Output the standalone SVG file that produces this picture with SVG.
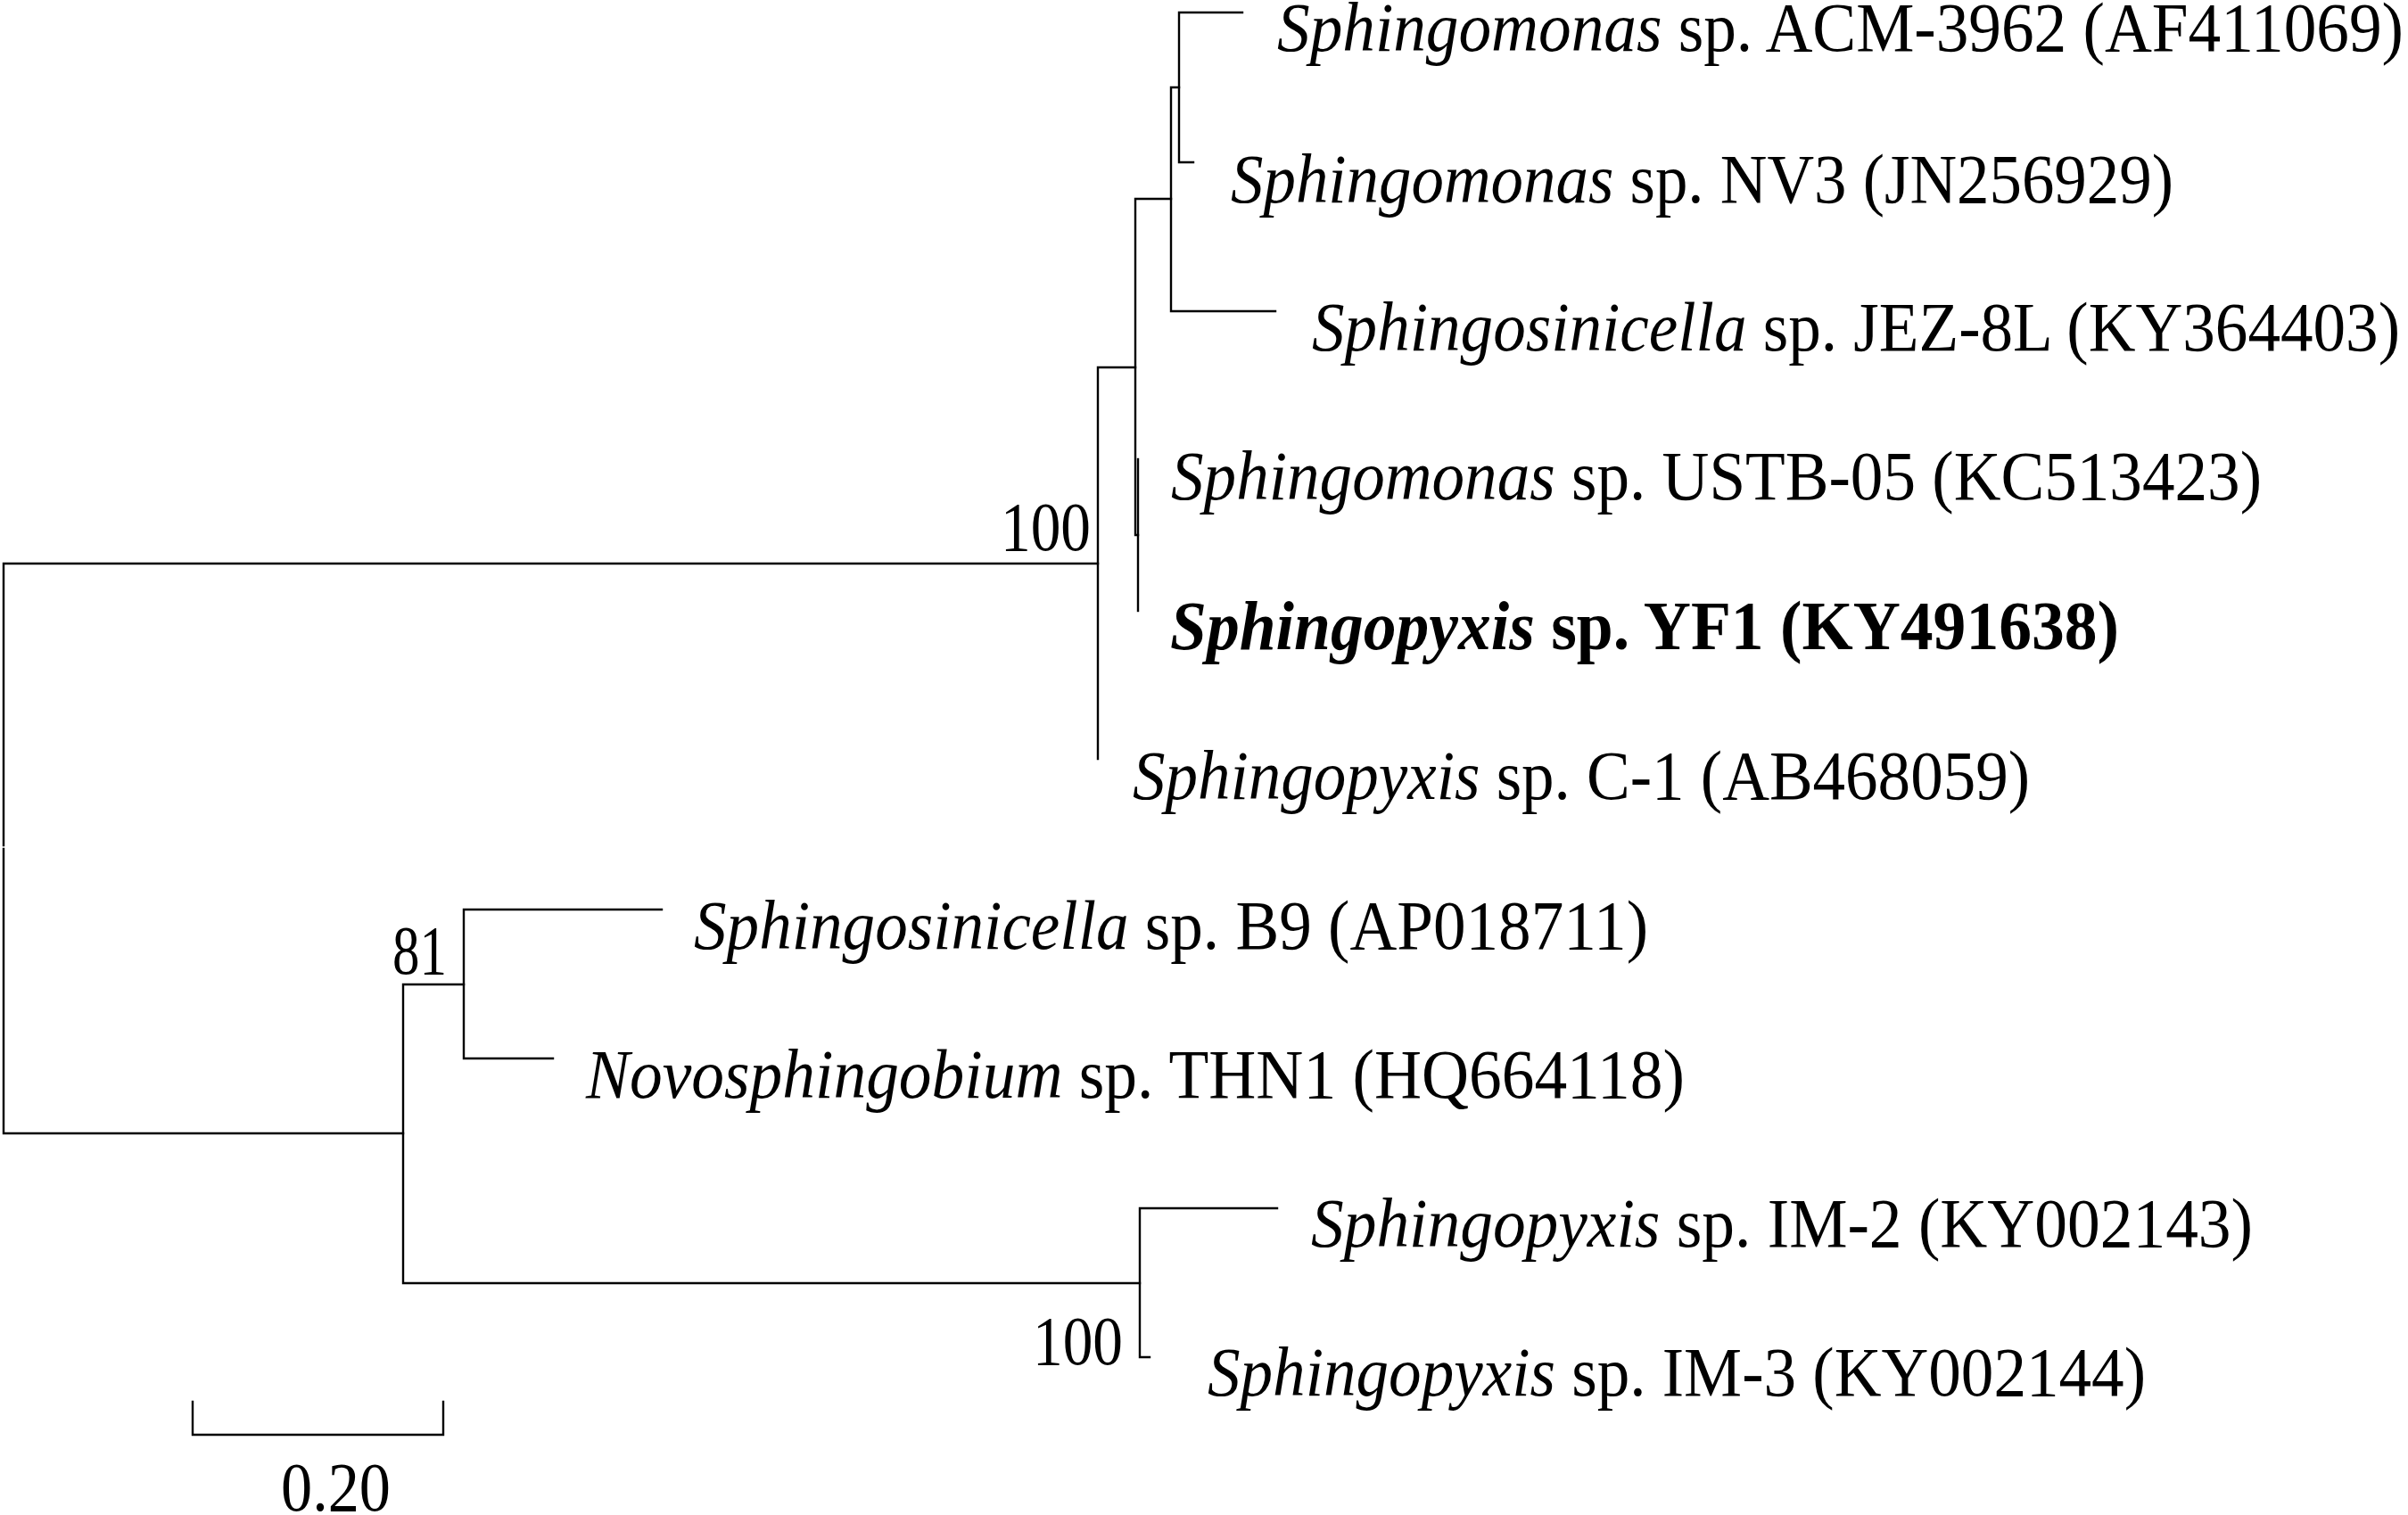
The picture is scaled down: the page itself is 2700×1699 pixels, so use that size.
<svg xmlns="http://www.w3.org/2000/svg" width="2700" height="1699" viewBox="0 0 2700 1699">
<style>
.br{stroke:#000;stroke-width:2.4;fill:none;stroke-linecap:square}
.t{font-family:"Liberation Serif","Times New Roman",serif;font-size:78px;fill:#000}
.i{font-style:italic}
.b{font-weight:bold}
</style>
<rect width="2700" height="1699" fill="#fff"/>
<g id="connectors" class="br">
<path d="M5,632H1231M4,632V948M4,952V1271M4,1271H452"/>
<path d="M1231,412V851M1231,412H1273"/>
<path d="M1273,223V600H1276M1273,223H1313"/>
<path d="M1276,515V685"/>
<path d="M1313,98V349M1313,349H1430M1313,98H1322"/>
<path d="M1322,14V182M1322,14H1393M1322,182H1338"/>
<path d="M452,1104V1439M452,1104H520M452,1439H1278"/>
<path d="M520,1020V1187M520,1020H742M520,1187H620"/>
<path d="M1278,1355V1522M1278,1355H1432M1278,1522H1289"/>
</g>
<g id="leaf-acm"><text class="t" x="1432" y="57" textLength="1263" lengthAdjust="spacingAndGlyphs"><tspan class="i">Sphingomonas</tspan> sp. ACM-3962 (AF411069)</text></g>
<g id="leaf-nv3"><text class="t" x="1380" y="227" textLength="1057" lengthAdjust="spacingAndGlyphs"><tspan class="i">Sphingomonas</tspan> sp. NV3 (JN256929)</text></g>
<g id="leaf-jez"><text class="t" x="1471" y="393" textLength="1220" lengthAdjust="spacingAndGlyphs"><tspan class="i">Sphingosinicella</tspan> sp. JEZ-8L (KY364403)</text></g>
<g id="leaf-ustb"><text class="t" x="1313" y="560" textLength="1223" lengthAdjust="spacingAndGlyphs"><tspan class="i">Sphingomonas</tspan> sp. USTB-05 (KC513423)</text></g>
<g id="leaf-yf1"><text class="t b" x="1312" y="728" textLength="1064" lengthAdjust="spacingAndGlyphs"><tspan class="i">Sphingopyxis</tspan> sp. YF1 (KY491638)</text></g>
<g id="leaf-c1"><text class="t" x="1270" y="896" textLength="1006" lengthAdjust="spacingAndGlyphs"><tspan class="i">Sphingopyxis</tspan> sp. C-1 (AB468059)</text></g>
<g id="leaf-b9"><text class="t" x="778" y="1064" textLength="1070" lengthAdjust="spacingAndGlyphs"><tspan class="i">Sphingosinicella</tspan> sp. B9 (AP018711)</text></g>
<g id="leaf-thn1"><text class="t" x="657" y="1231" textLength="1232" lengthAdjust="spacingAndGlyphs"><tspan class="i">Novosphingobium</tspan> sp. THN1 (HQ664118)</text></g>
<g id="leaf-im2"><text class="t" x="1470" y="1398" textLength="1056" lengthAdjust="spacingAndGlyphs"><tspan class="i">Sphingopyxis</tspan> sp. IM-2 (KY002143)</text></g>
<g id="leaf-im3"><text class="t" x="1354" y="1565" textLength="1052" lengthAdjust="spacingAndGlyphs"><tspan class="i">Sphingopyxis</tspan> sp. IM-3 (KY002144)</text></g>
<g id="boot-100a"><text class="t" x="1122" y="617" textLength="101" lengthAdjust="spacingAndGlyphs">100</text></g>
<g id="boot-81"><text class="t" x="440" y="1092" textLength="61" lengthAdjust="spacingAndGlyphs">81</text></g>
<g id="boot-100b"><text class="t" x="1158" y="1530" textLength="101" lengthAdjust="spacingAndGlyphs">100</text></g>
<g id="scalebar">
<path class="br" d="M216,1572V1609H497V1572"/>
<text class="t" x="315" y="1694" textLength="123" lengthAdjust="spacingAndGlyphs">0.20</text>
</g>
</svg>
